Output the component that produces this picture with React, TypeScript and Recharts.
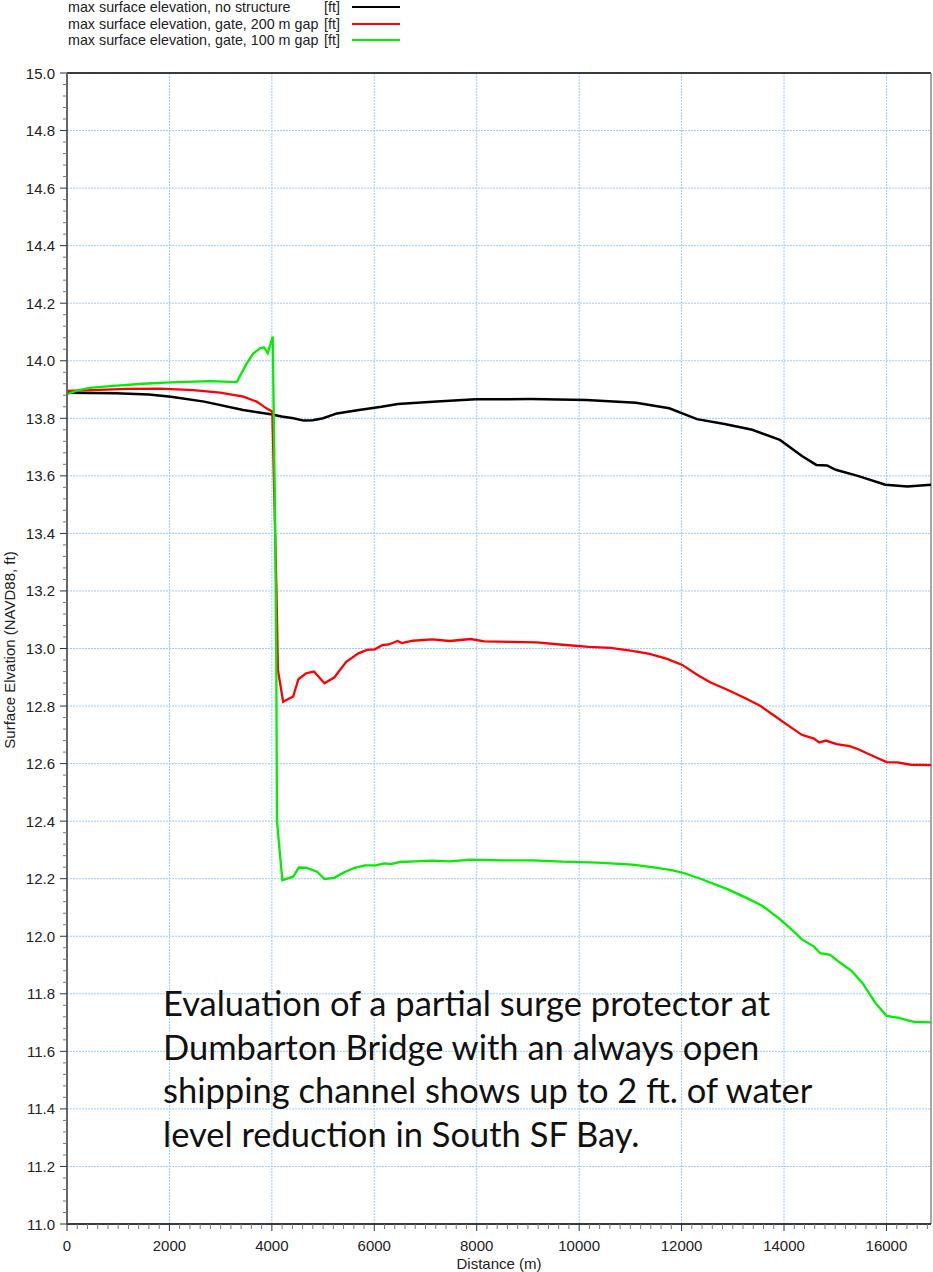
import React from 'react';
import { LineChart, Line, XAxis, YAxis, CartesianGrid, ReferenceLine, Label } from 'recharts';

// max surface elevation, no structure [ft]
const noStructureDist = [0, 950, 1600, 2030, 2680, 3440, 3980, 4190, 4420, 4620, 4800, 5000, 5270, 5700, 6140, 6460, 7220, 7980, 9060, 10140, 11110, 11760, 12300, 12840, 13380, 13920, 14350, 14630, 14840, 15010, 15440, 15980, 16410, 16870];
const noStructureElev = [13.889, 13.887, 13.883, 13.875, 13.858, 13.829, 13.814, 13.806, 13.8, 13.792, 13.793, 13.8, 13.817, 13.829, 13.84, 13.85, 13.858, 13.866, 13.867, 13.864, 13.854, 13.835, 13.797, 13.78, 13.76, 13.725, 13.669, 13.638, 13.636, 13.621, 13.6, 13.569, 13.563, 13.569];

// max surface elevation, gate, 200 m gap [ft]
const gap200Dist = [0, 515, 1165, 1816, 2467, 2988, 3444, 3704, 3867, 4010, 4090, 4119, 4220, 4416, 4518, 4670, 4823, 5027, 5222, 5452, 5690, 5860, 6012, 6156, 6284, 6454, 6538, 6750, 7132, 7472, 7880, 8151, 8660, 9170, 9680, 10190, 10613, 11037, 11377, 11717, 12014, 12311, 12566, 12905, 13245, 13542, 13839, 14093, 14348, 14586, 14688, 14815, 15027, 15280, 15450, 15790, 16003, 16215, 16470, 16870];
const gap200Elev = [13.895, 13.898, 13.902, 13.903, 13.898, 13.889, 13.875, 13.858, 13.838, 13.823, 13.2, 12.925, 12.815, 12.833, 12.893, 12.914, 12.92, 12.879, 12.9, 12.954, 12.983, 12.995, 12.997, 13.012, 13.014, 13.026, 13.019, 13.027, 13.032, 13.026, 13.033, 13.025, 13.023, 13.021, 13.013, 13.006, 13.002, 12.992, 12.981, 12.964, 12.943, 12.908, 12.882, 12.856, 12.827, 12.8, 12.763, 12.731, 12.7, 12.687, 12.673, 12.68, 12.668, 12.661, 12.65, 12.622, 12.605, 12.604, 12.596, 12.595];

// max surface elevation, gate, 100 m gap [ft]
const gap100Dist = [0, 189, 449, 840, 1490, 2012, 2793, 3314, 3509, 3639, 3769, 3847, 3919, 4017, 4060, 4085, 4100, 4204, 4416, 4526, 4670, 4883, 5027, 5222, 5392, 5604, 5817, 6029, 6199, 6326, 6496, 6793, 7132, 7472, 7896, 8490, 9085, 9680, 10358, 11037, 11462, 11802, 12056, 12396, 12905, 13245, 13584, 13924, 14178, 14348, 14586, 14705, 14900, 15112, 15324, 15536, 15790, 16003, 16215, 16555, 16870];
const gap100Elev = [13.884, 13.896, 13.906, 13.912, 13.92, 13.925, 13.929, 13.926, 13.991, 14.026, 14.043, 14.047, 14.026, 14.084, 13.5, 13.0, 12.4, 12.195, 12.207, 12.239, 12.238, 12.224, 12.199, 12.203, 12.221, 12.237, 12.246, 12.246, 12.253, 12.251, 12.258, 12.26, 12.263, 12.26, 12.266, 12.264, 12.264, 12.259, 12.256, 12.249, 12.239, 12.23, 12.219, 12.198, 12.163, 12.135, 12.105, 12.059, 12.019, 11.989, 11.964, 11.941, 11.935, 11.906, 11.879, 11.836, 11.767, 11.723, 11.717, 11.702, 11.701];

const xMajorTicks = [0, 2000, 4000, 6000, 8000, 10000, 12000, 14000, 16000];
const yMajorTicks = [11.0, 11.2, 11.4, 11.6, 11.8, 12.0, 12.2, 12.4, 12.6, 12.8, 13.0, 13.2, 13.4, 13.6, 13.8, 14.0, 14.2, 14.4, 14.6, 14.8, 15.0];

const legendItems = [
  { name: 'max surface elevation, no structure', unit: '[ft]', color: '#000000' },
  { name: 'max surface elevation, gate, 200 m gap', unit: '[ft]', color: '#ff0000' },
  { name: 'max surface elevation, gate, 100 m gap', unit: '[ft]', color: '#00ee00' },
];

const noteLines = [
  'Evaluation of a partial surge protector at',
  'Dumbarton Bridge with an always open',
  'shipping channel shows up to 2 ft. of water',
  'level reduction in South SF Bay.',
];

const X_MAX = 16870;

const zip = (xs: number[], ys: number[]) => xs.map((x, i) => ({ x, y: ys[i] }));
const noStructure = zip(noStructureDist, noStructureElev);
const gap200 = zip(gap200Dist, gap200Elev);
const gap100 = zip(gap100Dist, gap100Elev);

// minor ticks: every 200 m and every 0.04 ft
const xTicks: number[] = [];
for (let v = 0; v <= X_MAX; v += 200) xTicks.push(v);
const yTicks: number[] = [];
for (let i = 0; i <= 100; i++) yTicks.push(Math.round((11 + i * 0.04) * 100) / 100);

const font = '"Liberation Sans", Arial, sans-serif';

const XTick = (props: any) => {
  const { x, y, payload } = props;
  const v = payload.value;
  const major = v % 2000 === 0;
  return (
    <g>
      <line x1={x} x2={x} y1={y} y2={y + (major ? 7 : 5)} stroke={major ? '#333' : '#777'} />
      {major && (
        <text x={x} y={y + 21} textAnchor="middle" dominantBaseline="central" fontSize={15} fontFamily={font} fill="#222">
          {v}
        </text>
      )}
    </g>
  );
};

const YTick = (props: any) => {
  const { x, y, payload } = props;
  const v = payload.value;
  const major = Math.abs(v * 5 - Math.round(v * 5)) < 1e-6;
  return (
    <g>
      <line x1={x - (major ? 7 : 4)} x2={x} y1={y} y2={y} stroke={major ? '#333' : '#777'} />
      {major && (
        <text x={x - 12} y={y} textAnchor="end" dominantBaseline="central" fontSize={15} fontFamily={font} fill="#222">
          {v.toFixed(1)}
        </text>
      )}
    </g>
  );
};

export default function App() {
  return (
    <div style={{ position: 'absolute', left: 0, top: 0, width: 933, height: 1272, background: '#fff', fontFamily: font }}>
      <LineChart width={933} height={1272} margin={{ top: 73, right: 2, bottom: 0, left: 0 }}>
        <CartesianGrid
          stroke="#9ccbf5"
          strokeDasharray="2 1"
          horizontalValues={yMajorTicks}
          verticalValues={xMajorTicks}
        />
        <XAxis
          dataKey="x"
          type="number"
          domain={[0, X_MAX]}
          allowDataOverflow
          ticks={xTicks}
          interval={0}
          tick={<XTick />}
          tickLine={false}
          tickSize={0}
          tickMargin={0}
          height={48}
          axisLine={{ stroke: '#000', strokeWidth: 1.5 }}
        >
          <Label
            content={() => (
              <text x={499} y={1263} textAnchor="middle" dominantBaseline="central" fontSize={15} fontFamily={font} fill="#222">
                Distance (m)
              </text>
            )}
          />
        </XAxis>
        <YAxis
          dataKey="y"
          type="number"
          domain={[11, 15]}
          allowDataOverflow
          ticks={yTicks}
          interval={0}
          tick={<YTick />}
          tickLine={false}
          tickSize={0}
          tickMargin={0}
          width={67}
          axisLine={{ stroke: '#666', strokeWidth: 2 }}
        >
          <Label
            content={() => (
              <text
                x={9}
                y={650}
                transform="rotate(-90 9 650)"
                textAnchor="middle"
                dominantBaseline="central"
                fontSize={15}
                fontFamily={font}
                fill="#222"
              >
                Surface Elvation (NAVD88, ft)
              </text>
            )}
          />
        </YAxis>
        <ReferenceLine y={15} stroke="#000" strokeWidth={1.5} />
        <ReferenceLine x={X_MAX} stroke="#888" strokeWidth={1.5} />
        <Line data={noStructure} dataKey="y" type="linear" stroke="#000000" strokeWidth={2.5} dot={false} isAnimationActive={false} />
        <Line data={gap200} dataKey="y" type="linear" stroke="#ff0000" strokeWidth={2.3} dot={false} isAnimationActive={false} />
        <Line data={gap100} dataKey="y" type="linear" stroke="#00ee00" strokeWidth={2.3} dot={false} isAnimationActive={false} />
      </LineChart>

      <div style={{ position: 'absolute', left: 0, top: 0, width: 420, height: 50 }}>
        {legendItems.map((item, i) => (
          <div key={item.name} style={{ position: 'absolute', top: i * 16.7 - 1, left: 0, height: 17, width: 420, fontSize: 14.3, lineHeight: '17px', color: '#222' }}>
            <span style={{ position: 'absolute', left: 68 }}>{item.name}</span>
            <span style={{ position: 'absolute', right: 80, textAlign: 'right' }}>{item.unit}</span>
            <span style={{ position: 'absolute', left: 352, top: 7, width: 48, height: 0, borderTop: `2.5px solid ${item.color}` }} />
          </div>
        ))}
      </div>

      <div style={{ position: 'absolute', left: 163, top: 981, fontFamily: 'Lato, "Open Sans", sans-serif', fontSize: 34.5, lineHeight: '43.5px', color: '#111', whiteSpace: 'nowrap' }}>
        {noteLines.map((l) => (
          <div key={l}>{l}</div>
        ))}
      </div>
    </div>
  );
}
